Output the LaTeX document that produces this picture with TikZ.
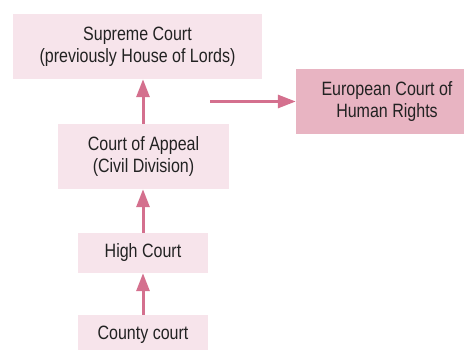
\documentclass[tikz,border=0pt]{standalone}
\usepackage{fontspec}
\setmainfont{Liberation Sans}[FakeStretch=0.83]
\usetikzlibrary{arrows.meta}
\definecolor{lightpink}{HTML}{F7E4EB}
\definecolor{darkpink}{HTML}{E8B4C2}
\definecolor{arrowpink}{HTML}{D4708E}
\definecolor{txt}{HTML}{222222}
\begin{document}
\begin{tikzpicture}[x=1pt,y=1pt,
  court/.style={fill=lightpink, draw=none, inner sep=0pt, align=center, text=txt,
    font=\fontsize{19.3}{22}\selectfont},
  echr/.style={court, fill=darkpink},
  uparrow/.style={draw=arrowpink, line width=3pt, -{Triangle[width=13pt,length=18pt]}}]
\useasboundingbox (0,0) rectangle (464,349);
\node[court, minimum width=249pt, minimum height=65pt] (sc) at (137.5,302.5)
  {Supreme Court\\(previously House of Lords)};
\node[echr, minimum width=182pt, minimum height=65pt] (ec) at (387,247.5)
  {European Court of\\Human Rights};
\node[court, minimum width=171pt, minimum height=65pt] (ca) at (143.5,192.5)
  {Court of Appeal\\(Civil Division)};
\node[court, minimum width=130pt, minimum height=40pt] (hc) at (143,96)
  {High Court};
\node[court, minimum width=130pt, minimum height=40pt] (cc) at (143,14)
  {County court};
\coordinate (hstart) at (210,247.5);
\draw[uparrow] (ca.north -| hc.north) -- (sc.south -| hc.north);
\draw[uparrow] (hc.north) -- (hc.north |- ca.south);
\draw[uparrow] (cc.north) -- (hc.south);
\draw[uparrow] (hstart) -- (ec.west |- hstart);
\end{tikzpicture}
\end{document}
